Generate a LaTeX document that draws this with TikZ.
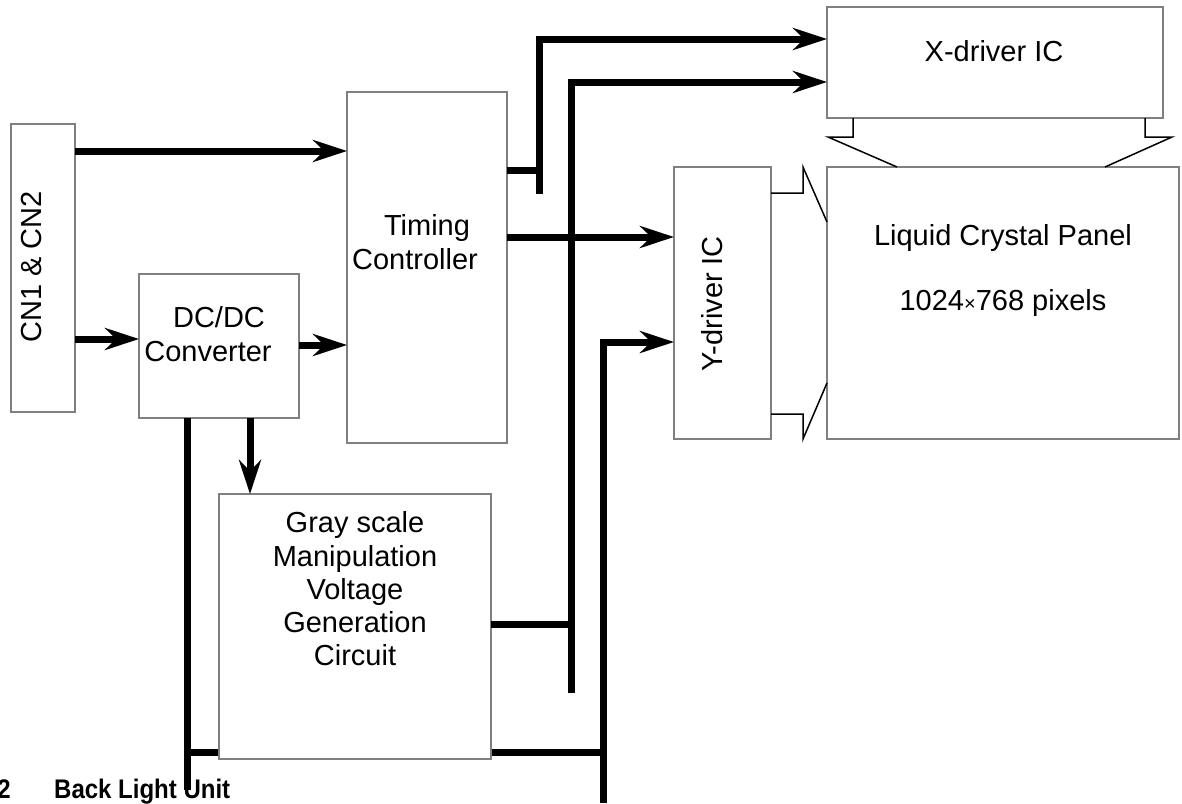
\documentclass[tikz,border=0pt]{standalone}
\usepackage{fontspec}
\setmainfont{Liberation Sans}
\usetikzlibrary{arrows.meta,backgrounds}
\begin{document}
\begin{tikzpicture}[x=1pt,y=-1pt,
  box/.style={draw=black!50, line width=1.5pt, fill=white, inner sep=0pt, outer sep=0pt, rectangle},
  bus/.style={line width=7pt, line join=miter},
  arr/.style={bus, -{Stealth[length=34pt,width=22pt,inset=11pt]}},
  thinline/.style={line width=1.5pt, line join=miter},
  lbl/.style={font=\fontsize{29}{33.3}\selectfont, inner sep=0pt, align=center},
  captext/.style={font=\bfseries\fontsize{24}{24}\selectfont, inner sep=0pt}]
\useasboundingbox (0,0) rectangle (1182,803);

% boxes
\node[box, minimum width=64pt,  minimum height=288pt] (cn)  at (43,268) {};
\node[box, minimum width=160pt, minimum height=144pt] (dc)  at (219,346) {};
\node[box, minimum width=160pt, minimum height=351pt] (tc)  at (427,267.5) {};
\node[box, minimum width=272pt, minimum height=265pt] (gs)  at (355,626.5) {};
\node[box, minimum width=97pt,  minimum height=272pt] (yd)  at (722.5,303) {};
\node[box, minimum width=336pt, minimum height=111pt] (xd)  at (995,62.5) {};
\node[box, minimum width=352pt, minimum height=272pt] (lcp) at (1003,303) {};

% labels
\node[lbl, rotate=90] (cnt) at (32,267) {CN1 \& CN2};
\node[lbl] (dct) at (219,334) {DC/DC\\Converter\hspace*{22pt}};
\node[lbl] (tct) at (427,242) {Timing\\Controller\hspace*{24pt}};
\node[lbl] (gst) at (355,589) {Gray scale\\Manipulation\\Voltage\\Generation\\Circuit};
\node[lbl, rotate=90] (ydt) at (712,304) {Y-driver IC};
\node[lbl] (xdt) at (994,51) {X-driver IC};
\node[lbl, anchor=base] (lct1) at (1003,245) {Liquid Crystal Panel};
\node[lbl, anchor=base] (lct2) at (1003,310) {1024{\fontsize{20}{20}\selectfont×}768 pixels};

% caption
\node[captext, anchor=base east] (capn) at (11,798) {\scalebox{1}[1.12]{2}};
\node[captext, anchor=base west] (capt) at (54,798) {\scalebox{1}[1.12]{Back Light Unit}};

% junction coordinates
\coordinate (j1) at (539,170);
\coordinate (j2) at (571,624);
\coordinate (j3) at (187,752);
\coordinate (j4) at (603,752);

% connectors
\draw[arr] (cn.east |- 0,151) -- (tc.west |- 0,151);
\draw[arr] (cn.east |- 0,339) -- (dc.west |- 0,339);
\draw[arr] (dc.east |- 0,345) -- (tc.west |- 0,345);
\draw[arr] (dc.south -| 250,0) -- (gs.north -| 250,0);

\draw[bus] (tc.east |- j1) -- (j1);
\draw[arr] (539,194) |- (xd.west |- 0,39);

\draw[arr] (tc.east |- 0,237) -- (yd.west |- 0,237);

\draw[bus] (gs.east |- j2) -- (j2);
\draw[arr] (571,693) |- (xd.west |- 0,82);

\draw[bus] (dc.south -| j3) -- (187,790);
\begin{scope}[on background layer]
\draw[bus] ([xshift=-3.5pt]j3) -- ([xshift=3.5pt]j4);
\end{scope}
\draw[arr] (603,803) |- (yd.west |- 0,342);

% panel connections
\draw[thinline] (xd.south -| 853,0) -- (853,137) -- (828,137) -- (lcp.north -| 897,0);
\draw[thinline] (xd.south -| 1145,0) -- (1145,137) -- (1172,137) -- (lcp.north -| 1105,0);
\draw[thinline] (yd.east |- 0,193) -- (803,193) -- (803,167) -- (lcp.west |- 0,222);
\draw[thinline] (yd.east |- 0,414) -- (803,414) -- (803,439) -- (lcp.west |- 0,383);
\end{tikzpicture}
\end{document}
